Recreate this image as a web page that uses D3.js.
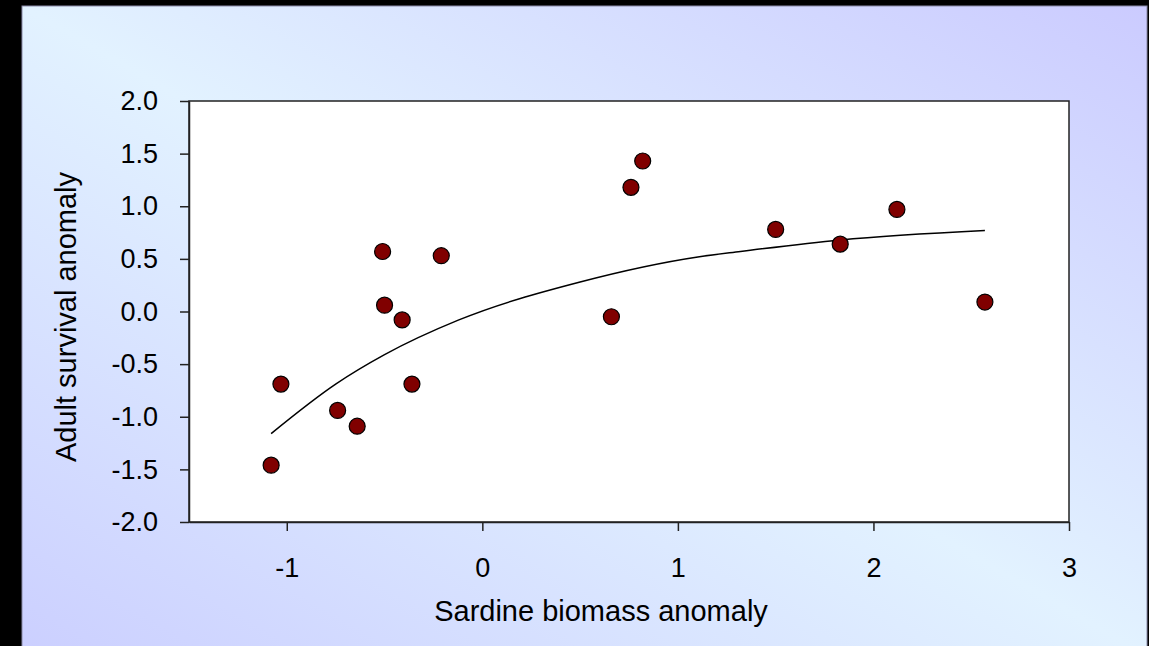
<!DOCTYPE html>
<html>
<head>
<meta charset="utf-8">
<script src="https://cdn.jsdelivr.net/npm/d3@7"></script>
<style>
  html, body { margin: 0; padding: 0; background: #000; }
  svg { display: block; }
  text { font-family: Arial, "Liberation Sans", sans-serif; fill: #000; }
</style>
</head>
<body>
<div id="chart"></div>
<script>
const width = 1149;
const height = 646;

// scatter points
const biomass  = [-1.08, -1.03, -0.74, -0.64, -0.51, -0.50, -0.41, -0.36, -0.21, 0.66, 0.76, 0.82, 1.50, 1.83, 2.12, 2.57];
const survival = [-1.46, -0.69, -0.94, -1.09, 0.57, 0.06, -0.08, -0.69, 0.53, -0.05, 1.18, 1.43, 0.78, 0.64, 0.97, 0.09];

// fitted curve, points
const fitX = [-1.08, -0.75, -0.50, -0.12, 0.50, 1.11, 1.32, 1.83, 2.57];
const fitY = [-1.16, -0.69, -0.41, -0.08, 0.28, 0.52, 0.57, 0.68, 0.77];

const xTicks = [-1, 0, 1, 2, 3];
const yTicks = [2.0, 1.5, 1.0, 0.5, 0.0, -0.5, -1.0, -1.5, -2.0];

const plot = { left: 189, top: 101, right: 1069, bottom: 522 };

const svg = d3.select("#chart").append("svg")
    .attr("width", width)
    .attr("height", height);

const defs = svg.append("defs");
const grad = defs.append("linearGradient")
    .attr("id", "bg")
    .attr("x1", 1).attr("y1", 0)
    .attr("x2", 0).attr("y2", 1);
grad.append("stop").attr("offset", 0).attr("stop-color", "#cbcbff");
grad.append("stop").attr("offset", 0.5).attr("stop-color", "#e2f2ff");
grad.append("stop").attr("offset", 1).attr("stop-color", "#cbcfff");

svg.append("rect")
    .attr("x", 22).attr("y", 6)
    .attr("width", 1125).attr("height", 650)
    .attr("fill", "url(#bg)")
    .attr("stroke", "#8a8aa8")
    .attr("stroke-width", 1);

const x = d3.scaleLinear().domain([-1.5, 3]).range([plot.left, plot.right]);
const y = d3.scaleLinear().domain([-2, 2]).range([plot.bottom, plot.top]);

svg.append("rect")
    .attr("x", plot.left).attr("y", plot.top)
    .attr("width", plot.right - plot.left)
    .attr("height", plot.bottom - plot.top)
    .attr("fill", "#fff")
    .attr("stroke", "#222")
    .attr("stroke-width", 1.5);

// y axis
const yAxis = svg.append("g")
    .attr("transform", `translate(${plot.left},0)`)
    .call(d3.axisLeft(y).tickValues(yTicks).tickSize(9).tickSizeOuter(0).tickPadding(22)
        .tickFormat(d3.format(".1f")));
yAxis.select(".domain").attr("stroke", "#222").attr("stroke-width", 1.5);
yAxis.selectAll(".tick line").attr("stroke", "#222").attr("stroke-width", 1.5);
yAxis.selectAll(".tick text")
    .attr("font-size", 27)
    .style("font-family", "Arial, 'Liberation Sans', sans-serif")
    .attr("fill", "#000")
    .text(d => d3.format(".1f")(d).replace("−", "-"));

// x axis
const xAxis = svg.append("g")
    .attr("transform", `translate(0,${plot.bottom})`)
    .call(d3.axisBottom(x).tickValues(xTicks).tickSize(9).tickSizeOuter(0).tickPadding(27)
        .tickFormat(d => String(d)));
xAxis.select(".domain").attr("stroke", "#222").attr("stroke-width", 1.5);
xAxis.selectAll(".tick line").attr("stroke", "#222").attr("stroke-width", 1.5);
xAxis.selectAll(".tick text")
    .attr("font-size", 27)
    .style("font-family", "Arial, 'Liberation Sans', sans-serif")
    .attr("fill", "#000");

// fitted line
const fit = fitX.map((v, i) => [v, fitY[i]]);
svg.append("path")
    .datum(fit)
    .attr("fill", "none")
    .attr("stroke", "#000")
    .attr("stroke-width", 1.5)
    .attr("d", d3.line().x(d => x(d[0])).y(d => y(d[1])).curve(d3.curveMonotoneX));

// points
const pts = biomass.map((v, i) => [v, survival[i]]);
svg.append("g").selectAll("circle")
    .data(pts)
    .enter().append("circle")
    .attr("cx", d => x(d[0]))
    .attr("cy", d => y(d[1]))
    .attr("r", 8)
    .attr("fill", "#800000")
    .attr("stroke", "#000")
    .attr("stroke-width", 1.2);

// axis titles
svg.append("text")
    .attr("x", 601)
    .attr("y", 621)
    .attr("text-anchor", "middle")
    .attr("font-size", 29)
    .text("Sardine biomass anomaly");

svg.append("text")
    .attr("transform", "translate(76,317) rotate(-90)")
    .attr("text-anchor", "middle")
    .attr("font-size", 29)
    .text("Adult survival anomaly");
</script>
</body>
</html>
